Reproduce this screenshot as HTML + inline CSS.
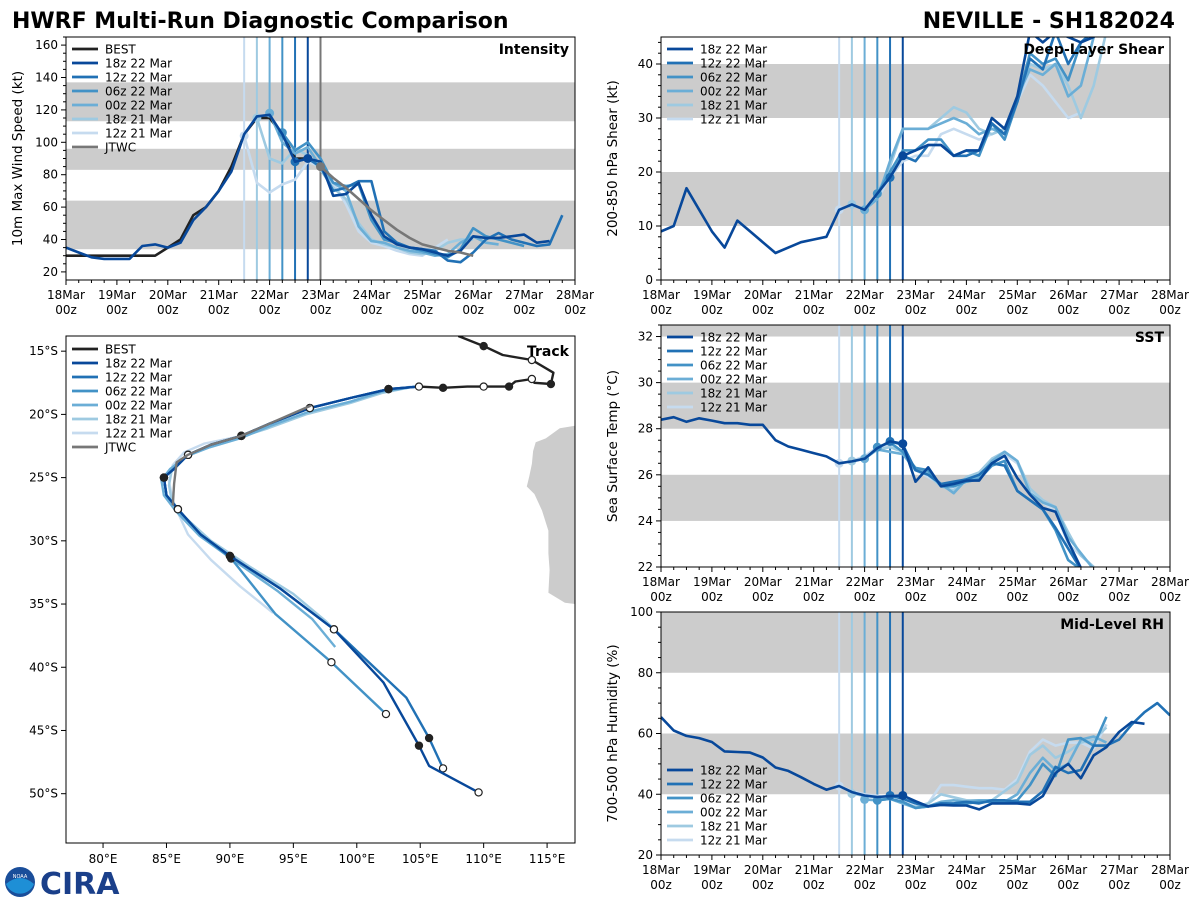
<!DOCTYPE html>
<html><head><meta charset="utf-8">
<style>
html,body{margin:0;padding:0;background:#fff;}
svg text{font-family:"DejaVu Sans","Liberation Sans",sans-serif;}
</style></head>
<body>
<svg id="chart" width="1200" height="900" viewBox="0 0 1200 900" xmlns="http://www.w3.org/2000/svg">
<text x="12" y="28" font-size="22" font-weight="bold" fill="#000">HWRF Multi-Run Diagnostic Comparison</text>
<text x="1175" y="28" font-size="22" font-weight="bold" fill="#000" text-anchor="end">NEVILLE - SH182024</text>
<g>
<circle cx="20" cy="882" r="15" fill="#1a4e9a"/>
<path d="M6,884 Q20,872 34,884 A15,15 0 0 1 6,884Z" fill="#1e8fd6"/>
<text x="20" y="878" font-size="5" fill="#fff" text-anchor="middle">NOAA</text>
<text x="40" y="894" font-size="30" font-weight="bold" fill="#1a3f8a">CIRA</text>
</g>
<g id="plots"></g>
</svg>
<script>
// ---------- DATA ----------
const runNames = ['18z 22 Mar','12z 22 Mar','06z 22 Mar','00z 22 Mar','18z 21 Mar','12z 21 Mar'];
const runColors = ['#08489a','#2171b5','#4292c6','#6baed6','#9ecae1','#c6dbef'];
const runInit = [19,18,17,16,15,14]; // 6-hourly index from 18 Mar 00z
const dayLabels = ['18Mar','19Mar','20Mar','21Mar','22Mar','23Mar','24Mar','25Mar','26Mar','27Mar','28Mar'];

const bestVmax = [30,30,30,30,30,30,30,30,35,40,55,60,70,85,105,115,115,105,90,90,85];
const jtwcVmax = [85,78,72,65,58,52,46,41,37,35,33,32,30];
const jtwcStart = 20;
const vmax18z22 = [35,32,29,28,28,28,36,37,35,38,52,60,70,82,105,116,117,105,88,90,88,67,68,75,55,42,37,35,34,32,30,33,42,41,41,42,43,38,39];
const vmax12z22 = [88,90,85,70,72,76,76,45,38,35,34,33,27,26,32,40,44,40,38,36,37,55];
const vmax06z22 = [106,95,100,90,75,73,74,52,40,38,35,33,31,29,34,47,42,40,38,36];
const vmax00z22 = [118,100,93,97,85,75,70,48,39,38,35,33,32,30,31,38,42,38,37];
const vmax18z21 = [115,90,87,96,92,83,72,65,50,40,37,35,32,31,33,38,40,40];
const vmax12z21 = [104,75,69,74,77,88,85,75,62,45,38,36,33,31,30,35,40];

const shr18z22 = [9,10,17,13,9,6,11,9,7,5,6,7,7.5,8,13,14,13,16,19,23,24,25,25,23,24,24,30,28,34,46,44,46,45,44,45,48,50,52,54];
const shr12z22 = [19,23,22,25,25,23,23,24,29,27,33,41,39,46,40,44,46,48,50,52];
const shr06z22 = [16,20,24,24,26,26,23,24,23,29,26,33,42,40,41,37,44,46,48,50];
const shr00z22 = [13,15,22,28,28,28,29,30,29,27,28,27,34,39,38,40,34,36,45,48];
const shr18z21 = [14,13,16,21,28,28,28,30,32,31,28,27,28,33,40,39,40,36,30,36,46];
const shr12z21 = [13,14,13,15,19,22,23,23,27,28,27,26,27,28,33,38,36,33,30,31];

const sst18z22 = [28.39,28.5,28.3,28.45,28.35,28.24,28.24,28.17,28.17,27.5,27.23,27.09,26.94,26.8,26.5,26.58,26.7,27.16,27.45,27.35,25.7,26.32,25.5,25.6,25.75,25.75,26.5,26.83,25.86,25.14,24.56,24.4,23.1,21.96];
const sst12z22 = [27.45,27.3,26.2,26.0,25.6,25.7,25.8,26.0,26.5,26.4,25.3,24.9,24.5,23.7,22.8,21.9];
const sst06z22 = [27.2,27.4,27.0,26.3,26.2,25.5,25.5,25.7,25.8,26.4,26.6,25.3,24.9,24.5,23.6,22.3,21.9];
const sst00z22 = [26.7,27.1,27.0,26.9,26.2,26.1,25.6,25.2,25.8,25.9,26.6,27.0,26.6,25.2,24.8,24.6,23.3,22.6,21.9];
const sst18z21 = [26.6,26.7,27.1,27.2,27.0,26.2,26.0,25.5,25.3,25.9,26.1,26.7,27.0,26.6,25.4,24.9,24.6,23.5,22.5,22.0];
const sst12z21 = [26.5,26.6,26.8,27.2,27.3,27.0,26.2,25.9,25.6,25.4,25.7,26.0,26.6,26.9,26.5,25.3,24.8,24.4,23.0,22.5,22.0];

const rh18z22 = [65.4,61,59.2,58.5,57.2,54.1,53.9,53.7,52.1,48.8,47.7,45.6,43.4,41.5,42.7,40.7,39.6,39.1,39.4,39.6,37.7,36,36.5,36.3,36.3,35,37,37,37,36.6,39.4,47,50,45.3,52.8,55.5,60.5,63.8,63.2];
const rh12z22 = [39.6,38.5,37,36,37,37,37.5,37,38,38,37.5,37.5,41,49,47,48,56,56,58,63,67,70,66];
const rh06z22 = [38,38.5,37.5,35.5,36,37,36.5,37,37.5,37.5,37.5,38,43,50,46,58,58.5,56,65.5];
const rh00z22 = [38.3,38,38.5,37,35.5,36,37.5,38,37.5,38,38,37.5,40,47,52,48,50,58,59,57];
const rh18z21 = [40.2,39.5,39,38.5,37,35.8,37,40,39,38,38,38,41,44,53,56,52,54,57,58,62];
const rh12z21 = [42.7,41,40,39.5,38.5,37.5,36,37,43,43,42.5,42,42,41.5,45,54,58,56,57,57,55,63];

// Track: [lon E, lat S]
const bestLon = [108,110,111.5,113.8,115.5,115.3,114,113.8,112.5,112,111.5,110,108.7,106.8,104.9];
const bestLat = [13.8,14.6,15.3,15.7,16.7,17.6,17.5,17.2,17.4,17.8,17.8,17.8,17.8,17.9,17.8];
const commonLon = [104.9,102.5,99.5,96.3,93.2,90.9,88.5,86.7,85.6,84.8,85,85.9,87.7,90,94,98.2,102.1];
const commonLat = [17.8,18,18.7,19.5,20.7,21.7,22.4,23.2,24.3,25,26.4,27.5,29.5,31.2,33.8,37,41.2];
const trk18z22Lon = commonLon.concat([104.9,105.7,109.6]);
const trk18z22Lat = commonLat.concat([46.2,47.8,49.9]);
const trk12z22Lon = commonLon.slice(0,16).concat([103.9,105.7,106.8]);
const trk12z22Lat = commonLat.slice(0,16).concat([42.4,45.6,48.0]);
const trk06z22Lon = commonLon.slice(0,13).concat([90.1,93.6,98,102.3]);
const trk06z22Lat = commonLat.slice(0,13).concat([31.4,35.8,39.6,43.7]);
const trk00z22Lon = [104,102,99.5,96.2,93.2,90.8,88.4,86.6,85.3,84.6,84.8,85.7,87.6,90.1,93.8,96.5,98.3];
const trk00z22Lat = [17.9,18.2,19,19.8,20.9,21.9,22.6,23.3,24.3,25.2,26.4,27.6,29.6,31.4,34,36.2,38.4];
const trk18z21Lon = [104.5,102,99.5,96,93,90.5,88.2,86.5,85.4,85.2,85.4,86.3,88.5,91.5,95,97.5,99.9];
const trk18z21Lat = [17.8,18.3,19.1,20,21.1,21.9,22.6,23.3,24.5,25.6,26.8,28.0,30,32,34.2,36.3,38.6];
const trk12z21Lon = [104.3,102,99.5,96,93,90.5,88,86.4,85.5,85.2,85.5,86.0,86.7,88.5,90.8,93.4];
const trk12z21Lat = [17.8,18.2,19.0,19.9,21.0,21.8,22.3,23,24,25.3,26.8,28.0,29.5,31.5,33.6,35.7];
const jtwcLon = [96.4,93.2,90.9,88.5,86.7,85.8,85.6,85.5];
const jtwcLat = [19.3,20.7,21.7,22.4,23.2,23.8,25.5,27.2];
const landLon = [117.2,116.0,114.9,114.1,113.9,113.8,113.6,113.4,114.0,114.6,115.1,115.1,115.2,115.1,116.4,117.2];
const landLat = [20.9,21.1,21.9,22.2,22.9,23.9,24.9,25.7,26.3,27.6,29.2,31.0,32.3,34.1,34.9,35.0];

// ---------- HELPERS ----------
const NS='http://www.w3.org/2000/svg';
const root=document.getElementById('plots');
function mk(tag,attrs,parent){const e=document.createElementNS(NS,tag);for(const k in attrs)e.setAttribute(k,attrs[k]);(parent||root).appendChild(e);return e;}
function txt(s,attrs,parent){const e=mk('text',attrs,parent);e.textContent=s;return e;}

function timePanel(p){
  const g=mk('g',{});
  
  
  const X=i=>p.x0+(i/4)*(p.x1-p.x0)/10; // 6h index
  const Y=v=>p.y1-(v-p.ymin)/(p.ymax-p.ymin)*(p.y1-p.y0);
  const cid='clip-'+p.name;
  const cp=mk('clipPath',{id:cid},g);mk('rect',{x:p.x0,y:p.y0,width:p.x1-p.x0,height:p.y1-p.y0},cp);
  const pg=mk('g',{'clip-path':'url(#'+cid+')'},g);
  p.bands.forEach(b=>{const r=mk('rect',{x:p.x0,y:Y(b[1]),width:p.x1-p.x0,height:Y(b[0])-Y(b[1]),fill:'#cccccc'},pg);
    });
  for(let r=5;r>=0;r--){const l=mk('line',{x1:X(runInit[r]),x2:X(runInit[r]),y1:p.y0,y2:p.y1,stroke:runColors[r],'stroke-width':2},pg);
    }
  if(p.jtwc){const l=mk('line',{x1:X(jtwcStart),x2:X(jtwcStart),y1:p.y0,y2:p.y1,stroke:'#777','stroke-width':2},pg);
    }
  function series(vals,start,color,name,dotIdx){
    const pts=vals.map((v,k)=>X(start+k).toFixed(1)+','+Y(v).toFixed(1)).join(' ');
    const pl=mk('polyline',{points:pts,fill:'none',stroke:color,'stroke-width':2.6,'stroke-linejoin':'round'},pg);
    
    if(dotIdx!=null){const c=mk('circle',{cx:X(start+dotIdx),cy:Y(vals[dotIdx]),r:4.5,fill:color},pg);
      }
  }
  if(p.best) series(p.best,0,'#222','best-line',null);
  for(let r=5;r>=0;r--){const s=p.series[r];series(s.v,s.start,runColors[r],'run-line-'+r,runInit[r]-s.start);}
  if(p.jtwc){series(p.jtwc,jtwcStart,'#777','jtwc-line',0);}
  mk('rect',{x:p.x0,y:p.y0,width:p.x1-p.x0,height:p.y1-p.y0,fill:'none',stroke:'#000','stroke-width':1},g);
  for(let i=0;i<=40;i++){const x=X(i);const major=i%4===0;mk('line',{x1:x,x2:x,y1:p.y1,y2:p.y1+(major?5:3),stroke:'#000','stroke-width':1},g);
    if(major){const d=i/4;const t1=txt(dayLabels[d],{x:x,y:p.y1+19,'font-size':12,'text-anchor':'middle'},g);
      
      txt('00z',{x:x,y:p.y1+34,'font-size':12,'text-anchor':'middle'},g);}}
  for(let v=p.tick0;v<=p.ymax+1e-6;v+=p.minor){const y=Y(v);const major=Math.abs(((v-p.tick0)/p.step)-Math.round((v-p.tick0)/p.step))<1e-6;
    if(v<p.ymin)continue;
    mk('line',{x1:p.x0,x2:p.x0-(major?5:3),y1:y,y2:y,stroke:'#000','stroke-width':1},g);
    if(major){const t=txt(String(Math.round(v)),{x:p.x0-8,y:y+4,'font-size':12,'text-anchor':'end'},g);
      }}
  const yl=txt(p.ylabel,{x:0,y:0,'font-size':13.5,'text-anchor':'middle',transform:`translate(${p.x0-44},${(p.y0+p.y1)/2}) rotate(-90)`},g);
  
  const pt=txt(p.title,{x:p.x1-6,y:p.y0+17,'font-size':14,'font-weight':'bold','text-anchor':'end'},g);
  
  legend(g,p.x0+6,p.legendY,p.best!=null,p.jtwc!=null);
}
function legend(g,x,y,withBest,withJtwc){
  const items=[];if(withBest)items.push(['BEST','#222']);
  runNames.forEach((n,i)=>items.push([n,runColors[i]]));if(withJtwc)items.push(['JTWC','#777']);
  const lg=mk('g',{},g);
  items.forEach((it,k)=>{const yy=y+k*14;
    const e=mk('g',{},lg);
    mk('line',{x1:x,x2:x+26,y1:yy,y2:yy,stroke:it[1],'stroke-width':2.8},e);
    txt(it[0],{x:x+33,y:yy+4.5,'font-size':12},e);});
}

timePanel({name:'intensity-panel',x0:66,x1:575,y0:37,y1:280,ymin:15,ymax:165,tick0:20,step:20,minor:5,
  bands:[[34,64],[83,96],[113,137]],best:bestVmax,jtwc:jtwcVmax,ylabel:'10m Max Wind Speed (kt)',title:'Intensity',legendY:49,
  series:[{v:vmax18z22,start:0},{v:vmax12z22,start:18},{v:vmax06z22,start:17},{v:vmax00z22,start:16},{v:vmax18z21,start:15},{v:vmax12z21,start:14}]});
timePanel({name:'shear-panel',x0:661,x1:1170,y0:37,y1:280,ymin:0,ymax:45,tick0:0,step:10,minor:2,
  bands:[[10,20],[30,40]],best:null,jtwc:null,ylabel:'200-850 hPa Shear (kt)',title:'Deep-Layer Shear',legendY:49,
  series:[{v:shr18z22,start:0},{v:shr12z22,start:18},{v:shr06z22,start:17},{v:shr00z22,start:16},{v:shr18z21,start:15},{v:shr12z21,start:14}]});
timePanel({name:'sst-panel',x0:661,x1:1170,y0:325,y1:567,ymin:22,ymax:32.5,tick0:22,step:2,minor:0.5,
  bands:[[24,26],[28,30],[32,33]],best:null,jtwc:null,ylabel:'Sea Surface Temp (°C)',title:'SST',legendY:337,
  series:[{v:sst18z22,start:0},{v:sst12z22,start:18},{v:sst06z22,start:17},{v:sst00z22,start:16},{v:sst18z21,start:15},{v:sst12z21,start:14}]});
timePanel({name:'rh-panel',x0:661,x1:1170,y0:612,y1:855,ymin:20,ymax:100,tick0:20,step:20,minor:5,
  bands:[[40,60],[80,100]],best:null,jtwc:null,ylabel:'700-500 hPa Humidity (%)',title:'Mid-Level RH',legendY:770,
  series:[{v:rh18z22,start:0},{v:rh12z22,start:18},{v:rh06z22,start:17},{v:rh00z22,start:16},{v:rh18z21,start:15},{v:rh12z21,start:14}]});

// ---------- TRACK ----------
(function(){
  const x0=66,x1=575,y0=336,y1=843,lon0=77.08,lon1=117.2,lat0=13.8,lat1=53.9;
  const X=l=>x0+(l-lon0)/(lon1-lon0)*(x1-x0);
  const Y=l=>y0+(l-lat0)/(lat1-lat0)*(y1-y0);
  const g=mk('g',{});
  const cp=mk('clipPath',{id:'clip-track'},g);mk('rect',{x:x0,y:y0,width:x1-x0,height:y1-y0},cp);
  const pg=mk('g',{'clip-path':'url(#clip-track)'},g);
  const land=mk('polygon',{points:landLon.map((l,k)=>X(l).toFixed(1)+','+Y(landLat[k]).toFixed(1)).join(' '),fill:'#cccccc'},pg);
  
  function trk(lons,lats,color,name,markers){
    const pl=mk('polyline',{points:lons.map((l,k)=>X(l).toFixed(1)+','+Y(lats[k]).toFixed(1)).join(' '),fill:'none',stroke:color,'stroke-width':2.4,'stroke-linejoin':'round'},pg);
    
    if(markers)lons.forEach((l,k)=>{if(k%2===1||k===lons.length-1){const c=mk('circle',{cx:X(l),cy:Y(lats[k]),r:3.6,fill:(k%4===1)?'#222':'#fff',stroke:'#222','stroke-width':1.2},pg);
      }});
  }
  const runsT=[[trk18z22Lon,trk18z22Lat],[trk12z22Lon,trk12z22Lat],[trk06z22Lon,trk06z22Lat],[trk00z22Lon,trk00z22Lat],[trk18z21Lon,trk18z21Lat],[trk12z21Lon,trk12z21Lat]];
  for(let r=5;r>=0;r--)trk(runsT[r][0],runsT[r][1],runColors[r],'track-run-'+r,r<=2);
  trk(bestLon,bestLat,'#222','track-best',true);
  trk(jtwcLon,jtwcLat,'#777','track-jtwc',false);
  mk('rect',{x:x0,y:y0,width:x1-x0,height:y1-y0,fill:'none',stroke:'#000','stroke-width':1},g);
  for(let l=80;l<=115;l+=5){const x=X(l);mk('line',{x1:x,x2:x,y1:y1,y2:y1+5,stroke:'#000'},g);
    const t=txt(l+'°E',{x:x,y:y1+20,'font-size':12,'text-anchor':'middle'},g);}
  for(let l=15;l<=50;l+=5){const y=Y(l);mk('line',{x1:x0,x2:x0-5,y1:y,y2:y,stroke:'#000'},g);
    const t=txt(l+'°S',{x:x0-8,y:y+4,'font-size':12,'text-anchor':'end'},g);}
  const pt=txt('Track',{x:x1-6,y:y0+20,'font-size':14,'font-weight':'bold','text-anchor':'end'},g);
  
  legend(g,x0+6,y0+13,true,true);
})();
</script>
</body></html>
